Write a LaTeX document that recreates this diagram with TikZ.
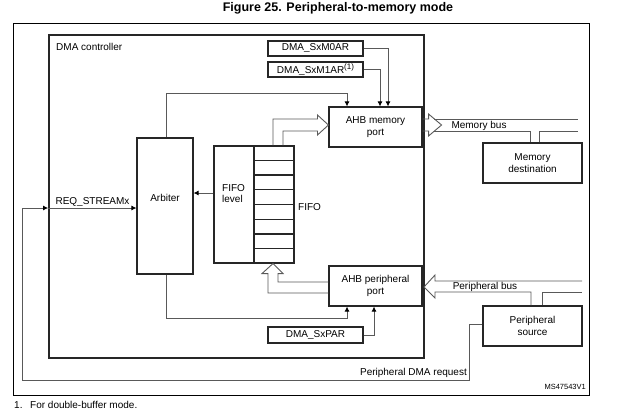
\documentclass[tikz,border=0pt]{standalone}
\usepackage{fontspec}
\setmainfont{Liberation Sans}
\usetikzlibrary{arrows.meta,calc}
\begin{document}
\begin{tikzpicture}[x=1pt,y=-1pt,
  txt/.style={font=\fontsize{10}{11.5}\selectfont,inner sep=0pt,align=center},
  box/.style={txt,draw=black!85,line width=1.1pt},
  conn/.style={draw=black!65,line width=0.9pt},
  arr/.style={conn,-{Latex[length=5pt,width=5pt,black]}}]
\useasboundingbox (0,0) rectangle (620,412);
% title
\node[font=\fontsize{12.5}{14}\selectfont\bfseries,inner sep=0pt] (title) at (338,8) {Figure 25. Peripheral-to-memory mode};
% frames
\node[draw=black,line width=0.8pt,minimum width=576pt,minimum height=372pt,inner sep=0pt] (frame) at (301,209) {};
\node[draw=black!85,line width=1.8pt,minimum width=375pt,minimum height=323pt,inner sep=0pt] (dma) at (236.5,196.5) {};
\node[txt,anchor=west] (dmalbl) at (56,47) {DMA controller};
% boxes
\node[box,minimum width=95pt,minimum height=15pt] (m0ar) at (315.5,48.5) {DMA\_SxM0AR};
\node[box,minimum width=95pt,minimum height=15pt] (m1ar) at (315.5,69.5) {DMA\_SxM1AR\raisebox{3.5pt}{\fontsize{8}{8}\selectfont(1)}};
\node[box,minimum width=93pt,minimum height=40pt] (ahbm) at (375.5,127) {AHB memory\\port};
\node[box,minimum width=56pt,minimum height=136pt] (arb) at (165,206) {};
\node[txt] (arbtxt) at (165,198) {Arbiter};
\node[box,minimum width=40pt,minimum height=117pt] (lvl) at (234,204.5) {};
\node[box,minimum width=40pt,minimum height=117pt] (cells) at (274,204.5) {};
\foreach \i in {1,...,7}{
  \draw[draw=black!85,line width=1.1pt] ($(cells.north west)!\i/8!(cells.south west)$) -- ($(cells.north east)!\i/8!(cells.south east)$);
}
\node[txt,align=left,anchor=west] (lvltxt) at (222,193.5) {FIFO\\level};
\node[txt,anchor=west] (fifotxt) at (298,207) {FIFO};
\node[box,minimum width=93pt,minimum height=40pt] (ahbp) at (375.5,286) {AHB peripheral\\port};
\node[box,minimum width=95pt,minimum height=16pt] (par) at (315.5,335) {DMA\_SxPAR};
\node[box,minimum width=99pt,minimum height=40pt] (memdst) at (532.5,163) {Memory\\destination};
\node[box,minimum width=99pt,minimum height=40pt] (persrc) at (532.5,326) {Peripheral\\source};
% register connectors
\draw[arr] (m0ar.east) -| ([xshift=12.5pt]ahbm.north);
\draw[arr] (m1ar.east) -| ([xshift=4.5pt]ahbm.north);
\draw[arr] ([xshift=1pt]arb.north) -- ++(0,-44) -| ([xshift=-28.5pt]ahbm.north);
\draw[arr] ([xshift=1pt]arb.south) -- ++(0,44) -| ([xshift=-28.5pt]ahbp.south);
\draw[arr] (par.east) -| ([xshift=-1.5pt]ahbp.south);
% FIFO level -> arbiter
\coordinate (f1) at ([yshift=11.5pt]lvl.west);
\draw[arr] (f1) -- (f1 -| arb.east);
% FIFO -> AHB memory port (hollow arrow)
\coordinate (mt) at ([yshift=2pt]ahbm.west);
\draw[conn,line join=miter] ([xshift=-1pt]cells.north) |- ($(mt)+(-11,-6)$) -- ($(mt)+(-11,-10)$) -- (mt) -- ($(mt)+(-11,10)$) -- ($(mt)+(-11,6)$) -| ([xshift=9pt]cells.north);
% AHB peripheral port -> FIFO (hollow arrow)
\coordinate (ft) at ([xshift=-1pt]cells.south);
\draw[conn,line join=miter] ([yshift=4pt]ahbp.west) -| ($(ft)+(5,10)$) -- ($(ft)+(10,10)$) -- (ft) -- ($(ft)+(-11,10)$) -- ($(ft)+(-5,10)$) |- ([yshift=-7pt]ahbp.west);
% memory bus
\draw[conn,line join=miter] ([yshift=8pt]ahbm.east) -- ++(6,0) -- ++(0,-5) -- ++(13,11) -- ++(-13,11) -- ++(0,-5) -- ([yshift=-4pt]ahbm.east);
\coordinate (mbt) at (578,119);
\coordinate (mbb) at (578,131);
\draw[conn] (434,119) -- (mbt);
\draw[conn] (434,131) -| ([xshift=-2.5pt]memdst.north);
\draw[conn] ([xshift=6.5pt]memdst.north) |- (mbb);
\node[txt] (mblbl) at (479,125.5) {Memory bus};
% peripheral bus
\coordinate (pbt) at (582,281);
\coordinate (pbb) at (582,292);
\draw[conn,line join=miter] (pbt) -- (435,281) -- (435,275) -- (424,287) -- (435,298) -- (435,292) -| ([xshift=-1.5pt]persrc.north);
\draw[conn] ([xshift=9.5pt]persrc.north) |- (pbb);
\node[txt] (pblbl) at (485,286.5) {Peripheral bus};
% request path
\coordinate (aw) at ([yshift=-2pt]arb.west);
\draw[arr] ([yshift=2pt]persrc.west) -- ++(-13,0) -- ++(0,56) -- (22,380) -- (22,208) -- (aw -| dma.west);
\draw[arr] (aw -| dma.west) -- (aw);
\node[txt] (reqlbl) at (92.5,202) {REQ\_STREAMx};
\node[txt,anchor=east] (pdrlbl) at (467,372.5) {Peripheral DMA request};
\node[font=\fontsize{7.5}{9}\selectfont,inner sep=0pt,anchor=east] (ms) at (586,387) {MS47543V1};
% footnote
\node[txt,anchor=west] (fn1) at (14,405) {1.};
\node[txt,anchor=west] (fn2) at (30,405) {For double-buffer mode.};
\end{tikzpicture}
\end{document}
